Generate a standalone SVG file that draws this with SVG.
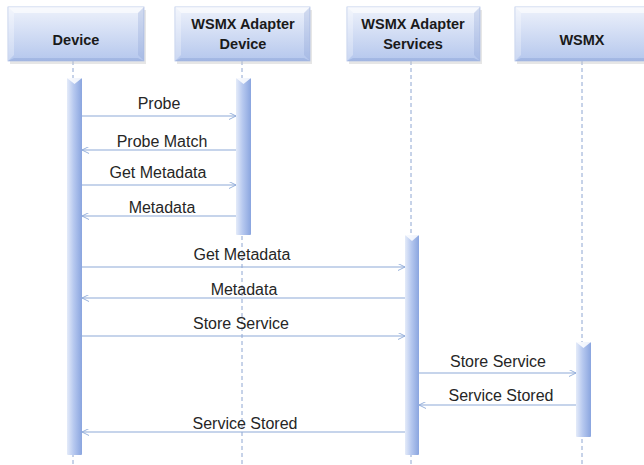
<svg xmlns="http://www.w3.org/2000/svg" width="644" height="465" viewBox="0 0 644 465">
<style>
.hdr{font-family:"Liberation Sans",Arial,sans-serif;font-weight:bold;font-size:14.5px;fill:#1a1a1a;text-anchor:middle}
.lbl{font-family:"Liberation Sans",Arial,sans-serif;font-size:16px;fill:#262626;text-anchor:middle}
.life{stroke:#8ea6d2;stroke-width:1;stroke-dasharray:4 3;fill:none}
.msg{stroke:#8eaad8;stroke-width:1.2;fill:none;marker-end:url(#arr)}
.box{fill:url(#boxg);stroke:#b3c3e6;stroke-width:0.8}
.shadow{fill:#c8c8c8;opacity:0.45}
.bevT{fill:#ffffff;opacity:0.6}
.bevL{fill:#ffffff;opacity:0.3}
.bevR{fill:#7f99d0;opacity:0.25}
.bevB{fill:#7f99d0;opacity:0.35}
.bar{fill:url(#barg)}
.notch{fill:#ffffff;opacity:0.85}
</style>
<defs>
<linearGradient id="boxg" x1="0" y1="0" x2="0" y2="1">
<stop offset="0" stop-color="#eef2fb"/>
<stop offset="1" stop-color="#b5c7ed"/>
</linearGradient>
<linearGradient id="barg" x1="0" y1="0" x2="1" y2="0">
<stop offset="0" stop-color="#e4ebf9"/>
<stop offset="0.45" stop-color="#b6c8ef"/>
<stop offset="1" stop-color="#8aa5df"/>
</linearGradient>
<marker id="arr" viewBox="0 0 10 10" refX="10" refY="5" markerWidth="7" markerHeight="7" markerUnits="userSpaceOnUse" orient="auto">
<path d="M0,0 L10,5 L0,10" fill="none" stroke="#8eaad8" stroke-width="1.3"/>
</marker>
</defs>

<g id="lifelines">
<line class="life" x1="73" y1="61" x2="73" y2="465"/>
<line class="life" x1="242" y1="61" x2="242" y2="465"/>
<line class="life" x1="411" y1="61" x2="411" y2="465"/>
<line class="life" x1="582" y1="61" x2="582" y2="465"/>
</g>

<g id="device">
<rect class="shadow" x="10" y="10" width="136" height="54"/>
<rect class="box" x="8" y="7" width="136" height="54"/>
<polygon class="bevT" points="8,7 144,7 138,13 14,13"/>
<polygon class="bevL" points="8,7 14,13 14,55 8,61"/>
<polygon class="bevR" points="144,7 138,13 138,55 144,61"/>
<polygon class="bevB" points="8,61 14,58 138,58 144,61"/>
<text class="hdr" x="76" y="45">Device</text>
</g>

<g id="adapter-device">
<rect class="shadow" x="177" y="10" width="135" height="54"/>
<rect class="box" x="175" y="7" width="135" height="54"/>
<polygon class="bevT" points="175,7 310,7 304,13 181,13"/>
<polygon class="bevL" points="175,7 181,13 181,55 175,61"/>
<polygon class="bevR" points="310,7 304,13 304,55 310,61"/>
<polygon class="bevB" points="175,61 181,58 304,58 310,61"/>
<text class="hdr" x="243" y="29">WSMX Adapter</text>
<text class="hdr" x="243" y="49">Device</text>
</g>

<g id="adapter-services">
<rect class="shadow" x="349" y="10" width="133" height="54"/>
<rect class="box" x="347" y="7" width="133" height="54"/>
<polygon class="bevT" points="347,7 480,7 474,13 353,13"/>
<polygon class="bevL" points="347,7 353,13 353,55 347,61"/>
<polygon class="bevR" points="480,7 474,13 474,55 480,61"/>
<polygon class="bevB" points="347,61 353,58 474,58 480,61"/>
<text class="hdr" x="413" y="29">WSMX Adapter</text>
<text class="hdr" x="413" y="49">Services</text>
</g>

<g id="wsmx">
<rect class="shadow" x="517" y="10" width="135" height="54"/>
<rect class="box" x="515" y="7" width="135" height="54"/>
<polygon class="bevT" points="515,7 650,7 644,13 521,13"/>
<polygon class="bevL" points="515,7 521,13 521,55 515,61"/>
<polygon class="bevB" points="515,61 521,58 644,58 650,61"/>
<text class="hdr" x="582" y="45">WSMX</text>
</g>

<g id="activations">
<rect class="bar" x="67" y="78" width="15" height="377" rx="1"/>
<polygon class="notch" points="67,78 74.5,84 82,78"/>
<rect class="bar" x="236" y="78" width="15" height="157" rx="1"/>
<polygon class="notch" points="236,78 243.5,84 251,78"/>
<rect class="bar" x="405" y="235" width="14" height="220" rx="1"/>
<polygon class="notch" points="405,235 412,241 419,235"/>
<rect class="bar" x="576" y="342" width="15" height="95" rx="1"/>
<polygon class="notch" points="576,342 583.5,348 591,342"/>
</g>

<g id="connectors">
<line class="msg" x1="82" y1="116" x2="236" y2="116"/>
<line class="msg" x1="236" y1="150" x2="82" y2="150"/>
<line class="msg" x1="82" y1="185" x2="236" y2="185"/>
<line class="msg" x1="236" y1="216" x2="82" y2="216"/>
<line class="msg" x1="82" y1="267" x2="405" y2="267"/>
<line class="msg" x1="405" y1="298" x2="82" y2="298"/>
<line class="msg" x1="80" y1="336" x2="405" y2="336"/>
<line class="msg" x1="419" y1="373" x2="576" y2="373"/>
<line class="msg" x1="576" y1="405" x2="419" y2="405"/>
<line class="msg" x1="405" y1="432" x2="82" y2="432"/>
</g>

<g id="labels">
<text class="lbl" x="159" y="109">Probe</text>
<text class="lbl" x="162" y="147">Probe Match</text>
<text class="lbl" x="158" y="178">Get Metadata</text>
<text class="lbl" x="162" y="213">Metadata</text>
<text class="lbl" x="242" y="260">Get Metadata</text>
<text class="lbl" x="244" y="295">Metadata</text>
<text class="lbl" x="241" y="329">Store Service</text>
<text class="lbl" x="498" y="367">Store Service</text>
<text class="lbl" x="501" y="401">Service Stored</text>
<text class="lbl" x="245" y="429">Service Stored</text>
</g>
</svg>
